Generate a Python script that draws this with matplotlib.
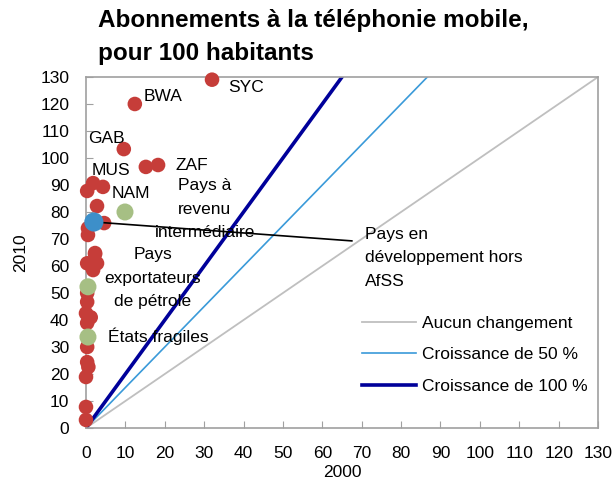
import matplotlib
matplotlib.use("Agg")
import matplotlib.pyplot as plt
import numpy as np

plt.rcParams['font.family'] = ['Liberation Sans', 'DejaVu Sans']

# Countries (red)
red_x = [32, 12.4, 9.6, 15.2, 18.3, 1.8, 4.3, 0.3, 2.8, 4.6, 0.5, 0.5, 2.3,
         2.3, 0.3, 2.8, 1.8, 0.3, 0.3, 0, 1.2, 0.3, 0.3, 0.3, 0.6, 0, 0, 0]
red_y = [129, 120, 103.3, 96.7, 97.4, 90.7, 89.3, 87.8, 82.2, 75.9, 74, 71.5, 64.8,
         64.4, 61, 61, 58.5, 50, 46.7, 42.5, 41, 38.9, 30, 24.4, 22.6, 18.9, 7.8, 3]

# Groups (green)
grp_x = [9.9, 0.5, 0.5]
grp_y = [80, 52.3, 33.7]
# Developing countries excl. SSA (blue)
dev_x = [2]
dev_y = [76.3]

ref_x = np.array([0, 130])
no_change = ref_x
growth50 = ref_x * 1.5
growth100 = ref_x * 2

fig = plt.figure(figsize=(6.16, 4.86), dpi=100)
ax = fig.add_axes([0.1396, 0.1193, 0.8312, 0.7223])

ax.plot(ref_x, no_change, color='#BFBFBF', lw=1.3, label='Aucun changement', zorder=2)
ax.plot(ref_x, growth50, color='#3A9AD9', lw=1.2, label='Croissance de 50 %', zorder=2)
ax.plot(ref_x, growth100, color='#00009A', lw=2.6, label='Croissance de 100 %', zorder=2)

ax.scatter(red_x, red_y, s=110, color='#C63D39', edgecolors='none', zorder=3, clip_on=False)
ax.scatter(grp_x, grp_y, s=150, color='#A6BF84', edgecolors='none', zorder=4, clip_on=False)
ax.scatter(dev_x, dev_y, s=190, color='#3D8FC9', edgecolors='none', zorder=5, clip_on=False)

fs = 12.5
ax.text(36, 126, "SYC", fontsize=fs, va='center')
ax.text(14.7, 122.6, "BWA", fontsize=fs, va='center')
ax.text(0.5, 107.4, "GAB", fontsize=fs, va='center')
ax.text(22.8, 97.4, "ZAF", fontsize=fs, va='center')
ax.text(1.5, 95.5, "MUS", fontsize=fs, va='center')
ax.text(6.6, 87, "NAM", fontsize=fs, va='center')
ax.text(30.2, 81, "Pays à\nrevenu\nintermédiaire", fontsize=fs, ha='center', va='center',
        linespacing=1.7)
ax.text(70.8, 63, "Pays en\ndéveloppement hors\nAfSS", fontsize=fs, ha='left', va='center',
        linespacing=1.7)
ax.text(17, 55.5, "Pays\nexportateurs\nde pétrole", fontsize=fs, ha='center', va='center',
        linespacing=1.7)
ax.text(5.6, 34, "États fragiles", fontsize=fs, ha='left', va='center')
ax.plot([dev_x[0], 67.5], [dev_y[0], 69.3], color='black', lw=1.2, zorder=4)

ax.set_xlim(0, 130)
ax.set_ylim(0, 130)
ax.set_xticks(np.arange(0, 131, 10))
ax.set_yticks(np.arange(0, 131, 10))
ax.tick_params(direction='in', length=5, color='#A0A0A0', labelsize=fs)
ax.tick_params(axis='x', pad=13)
ax.tick_params(axis='y', pad=12)
for s in ax.spines.values():
    s.set_color('#A0A0A0')
    s.set_linewidth(1.2)
ax.set_xlabel("2000", fontsize=fs, labelpad=3)
ax.set_ylabel("2010", fontsize=fs, labelpad=9)

leg = ax.legend(loc='lower right', bbox_to_anchor=(1.01, 0.052), frameon=False, fontsize=fs,
                handlelength=3.1, handletextpad=0.35, labelspacing=0.95)

fig.text(0.159, 0.982, "Abonnements à la téléphonie mobile,\npour 100 habitants",
         fontsize=17.5, fontweight='bold', ha='left', va='top', linespacing=1.55)

fig.savefig("out.png", dpi=100)
